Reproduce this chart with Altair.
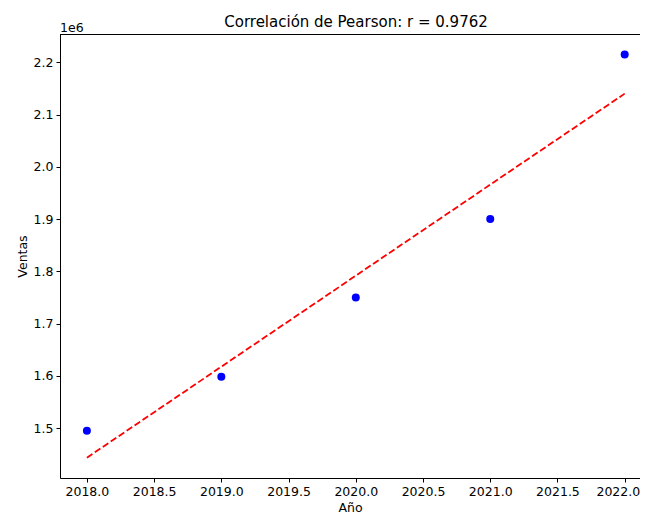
import altair as alt
import pandas as pd

# Data
anios = [2018, 2019, 2020, 2021, 2022]
ventas = [1495000, 1598000, 1750000, 1900000, 2215000]
titulo = ["Correlación de Pearson: r = 0.9762"]
x_ticks = [2018.0, 2018.5, 2019.0, 2019.5, 2020.0, 2020.5, 2021.0, 2021.5, 2022.0]
y_ticks = [1500000, 1600000, 1700000, 1800000, 1900000, 2000000, 2100000, 2200000]
offset_label = ["1e6"]

df = pd.DataFrame({"Año": anios, "Ventas": ventas})

W, H = 580, 444
FONT = "DejaVu Sans"

xs = alt.Scale(domain=[2017.8, 2017.8 + W / 134.45], nice=False, zero=False)
ys = alt.Scale(domain=[1404400, 2254100], nice=False, zero=False)

base = alt.Chart(df)

points = base.mark_circle(color="blue", opacity=1, size=64).encode(
    x=alt.X("Año:Q", scale=xs,
            axis=alt.Axis(values=x_ticks, format=".1f", title="Año",
                          labelFlush=20, labelFlushOffset=15)),
    y=alt.Y("Ventas:Q", scale=ys,
            axis=alt.Axis(values=y_ticks,
                          labelExpr="format(datum.value / 1000000, '.1f')",
                          title="Ventas")),
)

line = base.transform_regression("Año", "Ventas", extent=[2018, 2022]).mark_line(
    color="red", strokeDash=[6.7, 2.9], strokeWidth=1.8
).encode(x=alt.X("Año:Q", scale=xs), y=alt.Y("Ventas:Q", scale=ys))

top_spine = alt.Chart(pd.DataFrame({"t": offset_label})).mark_rule(
    color="black", strokeWidth=1
).encode(x=alt.value(0), x2=alt.value(W), y=alt.value(0.5))

offset_txt = alt.Chart(pd.DataFrame({"t": offset_label})).mark_text(
    align="left", baseline="alphabetic", font=FONT, fontSize=12.5, color="black"
).encode(x=alt.value(0), y=alt.value(-2.5), text="t:N")

title_txt = alt.Chart(pd.DataFrame({"t": titulo})).mark_text(
    align="center", baseline="alphabetic", font=FONT, fontSize=15, color="black"
).encode(x=alt.value(296), y=alt.value(-7.3), text="t:N")

chart = alt.layer(points, line, top_spine, offset_txt, title_txt).properties(
    width=W,
    height=H,
    autosize="none",
    padding={"left": 52, "top": 26, "right": 0, "bottom": 36},
).configure_view(stroke="transparent").configure_axis(
    grid=False,
    labelFont=FONT, labelFontSize=12.5, labelColor="black",
    titleFont=FONT, titleFontSize=12.5, titleFontWeight="normal", titleColor="black",
    tickColor="black", domainColor="black", tickSize=4, domainWidth=1, tickWidth=1,
    labelPadding=3, titlePadding=4,
)

chart.save("out.html", embed_options={"renderer": "svg", "actions": False})
